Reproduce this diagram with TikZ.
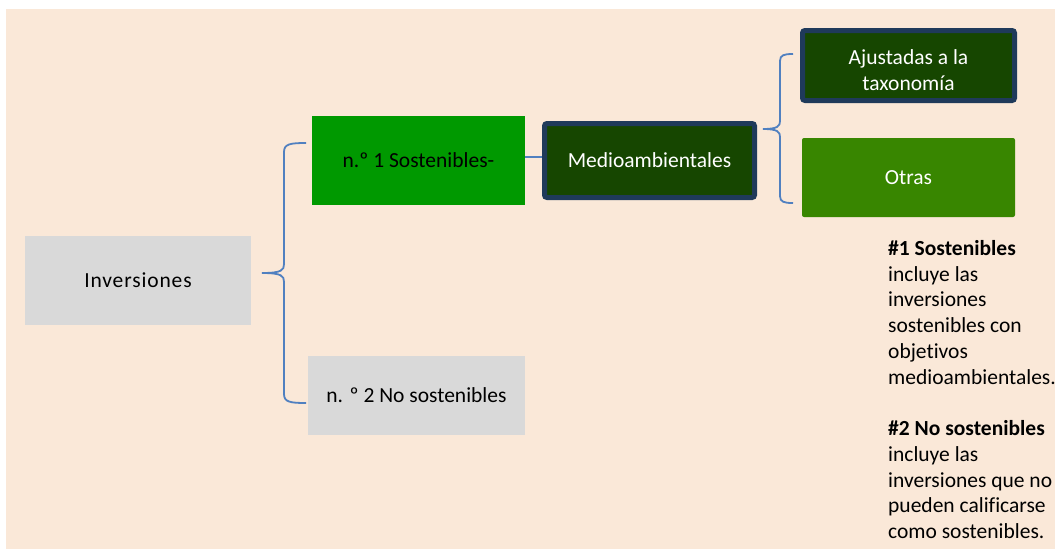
\documentclass[tikz,border=0pt]{standalone}
\usepackage{fontspec}
\setmainfont[Ligatures={NoCommon}]{Carlito}
\newfontfamily\spacedfont[LetterSpace=4,Ligatures={NoCommon}]{Carlito}
\definecolor{peach}{HTML}{FAE8D8}
\definecolor{boxgray}{HTML}{D9D9D9}
\definecolor{brightgreen}{HTML}{009900}
\definecolor{darkgreen}{HTML}{164600}
\definecolor{navyborder}{HTML}{1F3A5A}
\definecolor{otrasgreen}{HTML}{388600}
\definecolor{braceblue}{HTML}{5080C0}
\begin{document}
\begin{tikzpicture}[x=1pt,y=-1pt,
  box/.style={rectangle, inner sep=0pt, align=center, font=\fontsize{21.5}{26}\selectfont},
  graybox/.style={box, fill=boxgray, text=black},
  darkbox/.style={box, fill=darkgreen, draw=navyborder, line width=5pt, rounded corners=2.5pt, text=white},
  brace/.style={draw=braceblue, line width=1.8pt},
  link/.style={draw=braceblue, line width=1.8pt}]
\useasboundingbox (0,0) rectangle (1055,549);
\fill[peach] (6,9) rectangle (1055,549);

\node[graybox, minimum width=226pt, minimum height=89pt] (inv) at (138,280.5) {\spacedfont Inversiones};
\node[box, fill=brightgreen, text=black, minimum width=213pt, minimum height=89pt] (sost) at (418.5,160.5) {n.º 1 Sostenibles-};
\node[graybox, minimum width=217pt, minimum height=79pt] (nosost) at (416.5,395.5) {n. º 2 No sostenibles};
\node[darkbox, minimum width=210pt, minimum height=74pt] (medio) at (649.5,160.5) {Medioambientales};
\node[darkbox, minimum width=212pt, minimum height=70pt] (ajust) at (908.5,65.5) {\raisebox{-12pt}[0pt][0pt]{\begin{tabular}{@{}c@{}}Ajustadas a la\\taxonomía\end{tabular}}};
\node[box, fill=otrasgreen, text=white, rounded corners=2pt, minimum width=213pt, minimum height=79pt] (otras) at (908.5,177.5) {\raisebox{-2pt}{Otras}};

% brace 1: from Inversiones to the two investment boxes
\coordinate (t1) at (262,273);
\coordinate (a1) at (306,143);
\coordinate (b1) at (306,403);
\draw[brace] (a1) .. controls (290,143) and (284,144) .. (284,152) -- (284,264)
  .. controls (284,270) and (282,273) .. (t1)
  .. controls (282,273) and (284,276) .. (284,282) -- (284,394)
  .. controls (284,402) and (290,403) .. (b1);

% straight link
\draw[link] (sost.east |- 0,157) -- (medio.west |- 0,157);

% brace 2: from Medioambientales to its two sub-boxes
\coordinate (t2) at (763,129);
\coordinate (a2) at (793,54);
\coordinate (b2) at (793,203);
\draw[brace] (a2) .. controls (784,54) and (780,55) .. (780,61) -- (780,121)
  .. controls (780,126) and (778,129) .. (t2)
  .. controls (778,129) and (780,132) .. (780,137) -- (780,196)
  .. controls (780,202) and (784,203) .. (b2);

\node[anchor=north west, inner sep=0pt, align=left, font=\fontsize{21.5}{25.75}\selectfont] (note) at (888,240)
{\textbf{\#1 Sostenibles}\\incluye las\\inversiones\\sostenibles con\\objetivos\\medioambientales.\\[25.75pt]\textbf{\#2 No sostenibles}\\incluye las\\inversiones que no\\pueden calificarse\\como sostenibles.};
\end{tikzpicture}
\end{document}
